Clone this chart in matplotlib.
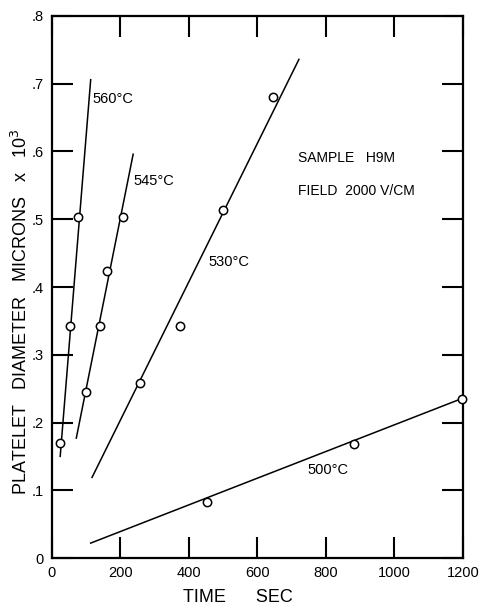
import matplotlib
matplotlib.use("Agg")
import matplotlib.pyplot as plt

plt.rcParams['font.family'] = ['Liberation Sans', 'DejaVu Sans']

# Data points (time s, diameter microns x 10^3)
t560 = [23, 53, 75]
d560 = [0.170, 0.342, 0.504]
t545 = [99, 140, 160, 206]
d545 = [0.245, 0.342, 0.423, 0.503]
t530 = [257, 375, 500, 644]
d530 = [0.259, 0.342, 0.514, 0.681]
t500 = [453, 882, 1198]
d500 = [0.083, 0.168, 0.234]

# Fitted lines (endpoints)
l560_t = [24, 113]
l560_d = [0.150, 0.706]
l545_t = [71, 237]
l545_d = [0.177, 0.596]
l530_t = [117, 721]
l530_d = [0.119, 0.736]
l500_t = [113, 1200]
l500_d = [0.022, 0.236]

xticks = [0, 200, 400, 600, 800, 1000, 1200]
xticklabels = ["0", "200", "400", "600", "800", "1000", "1200"]
yticks = [0, 0.1, 0.2, 0.3, 0.4, 0.5, 0.6, 0.7, 0.8]
yticklabels = ["0", ".1", ".2", ".3", ".4", ".5", ".6", ".7", ".8"]

fig = plt.figure(figsize=(4.84, 6.06), dpi=100)
ax = fig.add_axes([0.1074, 0.0792, 0.8492, 0.8944])

for lt, ld in [(l560_t, l560_d), (l545_t, l545_d), (l530_t, l530_d), (l500_t, l500_d)]:
    ax.plot(lt, ld, color='black', lw=1.1)
for t, d in [(t560, d560), (t545, d545), (t530, d530), (t500, d500)]:
    ax.plot(t, d, 'o', mfc='white', mec='black', ms=6, mew=1.1, ls='none', clip_on=False, zorder=3)

ax.set_xlim(0, 1200)
ax.set_ylim(0, 0.8)
ax.set_xticks(xticks)
ax.set_xticklabels(xticklabels)
ax.set_yticks(yticks)
ax.set_yticklabels(yticklabels)
ax.tick_params(direction='in', length=15, width=1.5, top=True, right=True,
               labelsize=10.5, pad=6)
for s in ax.spines.values():
    s.set_linewidth(1.6)

ax.set_xlabel("TIME      SEC", fontsize=13)
ax.xaxis.set_label_coords(0.453, -0.057)
ax.set_ylabel("PLATELET   DIAMETER   MICRONS   x   10$^3$", fontsize=13)
ax.yaxis.set_label_coords(-0.052, 0.454)

ax.text(119, 0.677, "560°C", fontsize=10.5, ha='left', va='center')
ax.text(237, 0.556, "545°C", fontsize=10.5, ha='left', va='center')
ax.text(458, 0.437, "530°C", fontsize=10.5, ha='left', va='center')
ax.text(745, 0.130, "500°C", fontsize=10.5, ha='left', va='center')
ax.text(719, 0.590, "SAMPLE   H9M", fontsize=10, ha='left', va='center')
ax.text(719, 0.542, "FIELD  2000 V/CM", fontsize=10, ha='left', va='center')

fig.savefig("out.png", dpi=100)
